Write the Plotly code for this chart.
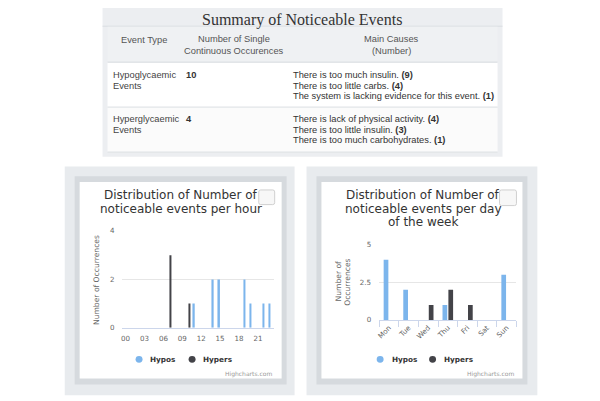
import plotly.graph_objects as go

W, H = 600, 401
OFF = 8  # default page body margin in the browser

# ---------------- data ----------------
hours = list(range(24))
hour_tick_values = list(range(0, 24, 3))
hour_tick_labels = ["00", "03", "06", "09", "12", "15", "18", "21"]
hypos_per_hour = [0, 0, 0, 0, 0, 0, 0, 0, 0, 0, 0, 1, 0, 0, 2, 2, 0, 0, 0, 2, 1, 0, 1, 1]
hypers_per_hour = [0, 0, 0, 0, 0, 0, 0, 3, 0, 0, 1, 0, 0, 0, 0, 0, 0, 0, 0, 0, 0, 0, 0, 0]

days = ["Mon", "Tue", "Wed", "Thu", "Fri", "Sat", "Sun"]
hypos_per_day = [4, 2, 0, 1, 0, 0, 3]
hypers_per_day = [0, 0, 1, 2, 1, 0, 0]

series_names = ["Hypos", "Hypers"]
series_colors = ["#7cb5ec", "#434348"]

hour_y_ticks = [0, 2, 4]
day_y_ticks = [0, 2.5, 5]
day_y_tick_labels = ["0", "2.5", "5"]

table_title = "Summary of Noticeable Events"
header_event = ["Event Type"]
header_count = ["Number of Single", "Continuous Occurences"]
header_causes = ["Main Causes", "(Number)"]
event_type_lines = [["Hypoglycaemic", "Events"], ["Hyperglycaemic", "Events"]]
occurrences = [10, 4]
cause_texts = [
    ["There is too much insulin.", "There is too little carbs.", "The system is lacking evidence for this event."],
    ["There is lack of physical activity.", "There is too little insulin.", "There is too much carbohydrates."],
]
cause_counts = [[9, 4, 1], [4, 3, 1]]

chart1_title = ["Distribution of Number of", "noticeable events per hour"]
chart2_title = ["Distribution of Number of", "noticeable events per day", "of the week"]


def px(x):
    return (x - OFF) / W


def py(y):
    return 1 - (y - OFF) / H


fig = go.Figure()

# ---------------- bars ----------------
for name, color, vals in zip(series_names, series_colors, [hypos_per_hour, hypers_per_hour]):
    fig.add_trace(go.Bar(x=hours, y=vals, name=name, marker=dict(color=color, line=dict(width=0)),
                         xaxis="x", yaxis="y", showlegend=False))
for name, color, vals in zip(series_names, series_colors, [hypos_per_day, hypers_per_day]):
    fig.add_trace(go.Bar(x=days, y=vals, name=name, marker=dict(color=color, line=dict(width=0)),
                         xaxis="x2", yaxis="y2", showlegend=False))

shapes = []
annotations = []


def rect(x0, y0, x1, y1, fill, line=None, lw=0):
    shapes.append(dict(type="rect", xref="paper", yref="paper", x0=px(x0), x1=px(x1), y0=py(y1), y1=py(y0),
                       fillcolor=fill, line=dict(width=lw, color=line or fill), layer="below"))


def hline(x0, x1, y, color, lw=1):
    shapes.append(dict(type="line", xref="paper", yref="paper", x0=px(x0), x1=px(x1), y0=py(y), y1=py(y),
                       line=dict(color=color, width=lw), layer="below"))


def text(x, y, s, size, color, family="DejaVu Sans", xanchor="center", angle=0):
    annotations.append(dict(x=px(x), y=py(y), xref="paper", yref="paper", text=s, showarrow=False,
                            xanchor=xanchor, yanchor="middle", textangle=angle,
                            font=dict(size=size, color=color, family=family)))


# ---------------- table panel ----------------
rect(100, 0, 502, 155, "#eceef1")
hline(100, 502, 21.5, "#d9dde1")
rect(105, 22, 497, 58, "#eff1f3")
rect(105, 58.5, 497, 104, "#ffffff")
rect(105, 104.5, 497, 150, "#fbfbfb")
hline(105, 497, 58.3, "#d6dade")
hline(105, 497, 104.3, "#dfe2e5")
hline(105, 497, 150.3, "#dfe2e5")

text(300, 15, table_title, 16, "#333333", family="Liberation Serif")
tf = "Liberation Sans"
ts = 9.3
text(141.5, 35.5, header_event[0], ts, "#555555", tf)
for i, s in enumerate(header_count):
    text(232, 35 + i * 11.7, s, ts, "#555555", tf)
for i, s in enumerate(header_causes):
    text(390.5, 35 + i * 11.7, s, ts, "#555555", tf)

row_tops = [71.7, 116.9]
for r in range(2):
    y0 = row_tops[r]
    for i, s in enumerate(event_type_lines[r]):
        text(108, y0 + i * 10.5, s, ts, "#444444", tf, xanchor="left")
    text(181.5, y0, "<b>%d</b>" % occurrences[r], ts, "#333333", tf, xanchor="left")
    for i, (s, n) in enumerate(zip(cause_texts[r], cause_counts[r])):
        text(289, y0 + i * 10.5, "%s <b>(%d)</b>" % (s, n), ts, "#333333", tf, xanchor="left")

# ---------------- chart panels ----------------
for (ox0, ox1, ix0, ix1, wx0, wx1) in [(62, 293, 72, 285, 77, 280), (305, 537, 315, 527, 320, 522)]:
    rect(ox0, 165, ox1, 399, "#e8ebee")
    rect(ix0, 175, ix1, 388, "#d6dade")
    rect(wx0, 181, wx1, 382, "#ffffff")


def button(x0, y0, x1, y1):
    r = 2
    path = (f"M {px(x0 + r)},{py(y0)} L {px(x1 - r)},{py(y0)} Q {px(x1)},{py(y0)} {px(x1)},{py(y0 + r)} "
            f"L {px(x1)},{py(y1 - r)} Q {px(x1)},{py(y1)} {px(x1 - r)},{py(y1)} "
            f"L {px(x0 + r)},{py(y1)} Q {px(x0)},{py(y1)} {px(x0)},{py(y1 - r)} "
            f"L {px(x0)},{py(y0 + r)} Q {px(x0)},{py(y0)} {px(x0 + r)},{py(y0)} Z")
    shapes.append(dict(type="path", xref="paper", yref="paper", path=path, fillcolor="#f7f7f7",
                       line=dict(color="#d0d0d0", width=1), layer="above"))


button(257, 189, 273, 204)
button(499, 189, 516, 205)

# titles
for i, s in enumerate(chart1_title):
    text(179, 194.3 + i * 14, s, 12, "#333333")
for i, s in enumerate(chart2_title):
    text(422.5, 194.3 + i * 14, s, 12, "#333333")

# axis titles
text(93.3, 281.3, "Number of Occurrences", 7.6, "#666666", angle=-90)
text(337.3, 282, "Number of", 7.6, "#666666", angle=-90)
text(346.7, 284, "Occurrences", 7.6, "#666666", angle=-90)


# legends
def legend(items):
    for (cx, tx, name, color) in items:
        shapes.append(dict(type="circle", xref="paper", yref="paper", x0=px(cx - 3.5), x1=px(cx + 3.5),
                           y0=py(362.3 + 3.5), y1=py(362.3 - 3.5), fillcolor=color, line=dict(width=0)))
        text(tx, 362.3, "<b>%s</b>" % name, 7.3, "#333333", xanchor="left")


legend([(136.7, 145.5, series_names[0], series_colors[0]), (190, 198.8, series_names[1], series_colors[1])])
legend([(379, 388.5, series_names[0], series_colors[0]), (431.7, 441.2, series_names[1], series_colors[1])])

# credits
text(272.5, 377, "Highcharts.com", 6, "#999999", xanchor="right")
text(515.5, 377, "Highcharts.com", 6, "#999999", xanchor="right")

tickfont = dict(family="DejaVu Sans", size=7.1, color="#666666")

fig.update_layout(
    width=W, height=H,
    margin=dict(l=0, r=0, t=0, b=0),
    paper_bgcolor="#ffffff",
    plot_bgcolor="rgba(0,0,0,0)",
    barmode="group", bargap=0.4, bargroupgap=0.2,
    showlegend=False,
    shapes=shapes,
    annotations=annotations,
    xaxis=dict(domain=[px(120), px(272)], range=[-0.5, 23.5], tickmode="array",
               tickvals=hour_tick_values, ticktext=hour_tick_labels, showgrid=False, zeroline=False,
               showline=True, linecolor="#ccd6eb", linewidth=1, tickfont=tickfont, ticks="",
               ticklabelstandoff=4, anchor="y", fixedrange=True),
    yaxis=dict(domain=[py(330), py(231)], range=[0, 4], tickmode="array", tickvals=hour_y_ticks,
               showgrid=True, gridcolor="#e6e6e6", gridwidth=1, zeroline=False, showline=False,
               tickfont=tickfont, ticks="", ticklabelstandoff=7, anchor="x"),
    xaxis2=dict(domain=[px(378), px(516)], type="category", categoryorder="array", categoryarray=days,
                tickangle=-45, ticks="outside", tickson="boundaries", ticklen=6, tickcolor="#ccd6eb",
                showgrid=False, zeroline=False, showline=True, linecolor="#ccd6eb", linewidth=1,
                tickfont=tickfont, anchor="y2"),
    yaxis2=dict(domain=[py(322), py(245)], range=[0, 5], tickmode="array", tickvals=day_y_ticks,
                ticktext=day_y_tick_labels, showgrid=True, gridcolor="#e6e6e6", gridwidth=1,
                zeroline=False, showline=False, tickfont=tickfont, ticks="", ticklabelstandoff=7,
                anchor="x2"),
)

fig.write_html("out.html")
